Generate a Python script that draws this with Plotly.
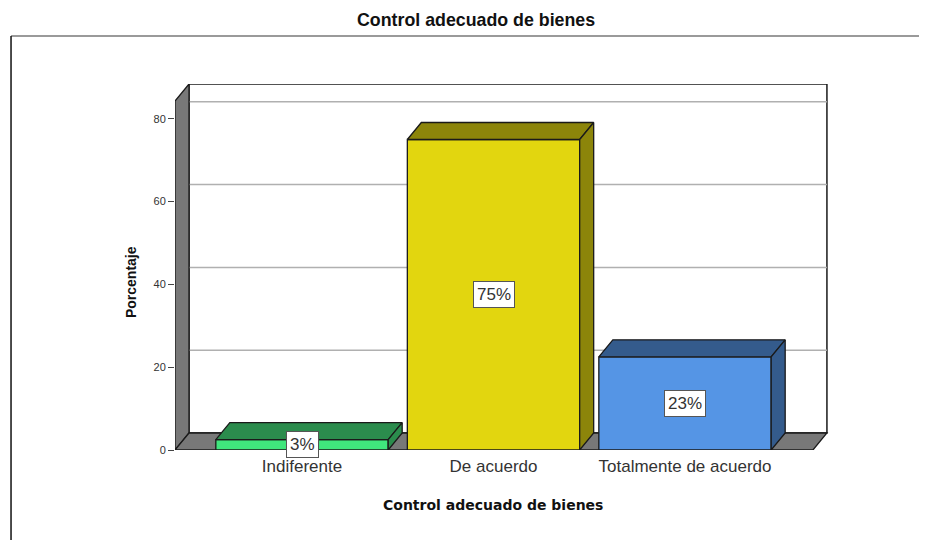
import plotly.graph_objects as go

# ---- data ----
categories = ["Indiferente", "De acuerdo", "Totalmente de acuerdo"]
values = [2.5, 75.0, 22.5]
labels = ["3%", "75%", "23%"]
y_ticks = [0, 20, 40, 60, 80]

front_colors = ["#40e67d", "#e2d60f", "#5595e5"]
dark_colors = ["#2b8c4d", "#8c850a", "#345b8c"]

# ---- geometry (data units) ----
W = 0.9            # bar width
DX = 14 / 191.5    # depth offset in x (category units)
DY = 17 / 4.14     # depth offset in y (value units)
XL = -0.6632       # left wall front x
XR = 2.668         # floor right front x
WALL_TOP = 84.3    # wall top (front) value
X_RANGE = [-0.6632, 2.8146]
Y_RANGE = [0, WALL_TOP + DY]

xs = list(range(len(categories)))

fig = go.Figure()

fig.add_trace(go.Bar(
    x=xs, y=values, width=W,
    marker=dict(color=front_colors, line=dict(color="#1a1a1a", width=1.3)),
    hoverinfo="skip", showlegend=False,
))

for i, v in enumerate(values):
    x0, x1 = i - W / 2, i + W / 2
    # top face
    fig.add_trace(go.Scatter(
        x=[x0, x0 + DX, x1 + DX, x1, x0],
        y=[v, v + DY, v + DY, v, v],
        fill="toself", fillcolor=dark_colors[i], mode="lines",
        line=dict(color="#1a1a1a", width=1.3), hoverinfo="skip", showlegend=False,
    ))
    # side face
    fig.add_trace(go.Scatter(
        x=[x1, x1, x1 + DX, x1 + DX, x1],
        y=[0, v, v + DY, DY, 0],
        fill="toself", fillcolor=dark_colors[i], mode="lines",
        line=dict(color="#1a1a1a", width=1.3), hoverinfo="skip", showlegend=False,
    ))

shapes = []
# back wall
shapes.append(dict(type="path", xref="x", yref="y", layer="below",
                   path=f"M{XL+DX},{DY} L{XL+DX},{WALL_TOP+DY} L{XR+DX},{WALL_TOP+DY} L{XR+DX},{DY} Z",
                   fillcolor="white", line=dict(color="#1a1a1a", width=1.5)))
# gridlines on back wall
for t in y_ticks[1:]:
    shapes.append(dict(type="line", xref="x", yref="y", layer="below",
                       x0=XL + DX, x1=XR + DX, y0=t + DY, y1=t + DY,
                       line=dict(color="#b0b0b0", width=1.5)))
# left wall
shapes.append(dict(type="path", xref="x", yref="y", layer="below",
                   path=f"M{XL},0 L{XL},{WALL_TOP} L{XL+DX},{WALL_TOP+DY} L{XL+DX},{DY} Z",
                   fillcolor="#787878", line=dict(color="#1a1a1a", width=1.3)))
# floor
shapes.append(dict(type="path", xref="x", yref="y", layer="below",
                   path=f"M{XL},0 L{XL+DX},{DY} L{XR+DX},{DY} L{XR},0 Z",
                   fillcolor="#787878", line=dict(color="#1a1a1a", width=1.3)))
# outer frame
shapes.append(dict(type="line", xref="paper", yref="paper", x0=-0.2462, x1=1.2, y0=1.131, y1=1.131,
                   line=dict(color="#9a9a9a", width=2)))
shapes.append(dict(type="line", xref="paper", yref="paper", x0=-0.2462, x1=-0.2462, y0=1.131, y1=-0.3,
                   line=dict(color="#111111", width=1.5)))

annotations = []
for i, (v, lab) in enumerate(zip(values, labels)):
    annotations.append(dict(x=i, y=v / 2, xref="x", yref="y", text=lab, showarrow=False,
                            xanchor="center", yanchor="middle",
                            bgcolor="white", bordercolor="#555555", borderwidth=1, borderpad=3,
                            font=dict(family="Liberation Sans, Arial", size=17, color="#333333")))
annotations.append(dict(x=0.452, y=1.175, xref="paper", yref="paper", text="<b>Control adecuado de bienes</b>",
                        xanchor="center", yanchor="middle", showarrow=False,
                        font=dict(family="Liberation Sans, Arial", size=17.8, color="#111111")))
annotations.append(dict(x=0.4775, y=-0.150, xref="paper", yref="paper", text="<b>Control adecuado de bienes</b>",
                        xanchor="center", yanchor="middle", showarrow=False,
                        font=dict(family="DejaVu Sans", size=14, color="#111111")))
annotations.append(dict(x=-0.066, y=0.459, xref="paper", yref="paper", text="<b>Porcentaje</b>",
                        xanchor="center", yanchor="middle", textangle=-90, showarrow=False,
                        font=dict(family="Liberation Sans, Arial", size=14, color="#111111")))

fig.update_layout(
    width=919, height=532,
    margin=dict(l=167, r=86, t=76, b=90),
    paper_bgcolor="white", plot_bgcolor="rgba(0,0,0,0)",
    shapes=shapes, annotations=annotations,
    showlegend=False,
    font=dict(family="Liberation Sans, Arial", color="#333333"),
    xaxis=dict(range=X_RANGE, tickvals=xs, ticktext=categories, showgrid=False, zeroline=False,
               showline=False, ticks="", ticklabelstandoff=4,
               tickfont=dict(size=17, color="#333333"), fixedrange=True),
    yaxis=dict(range=Y_RANGE, tickvals=y_ticks, showgrid=False, zeroline=False, showline=False,
               ticks="outside", ticklen=6, tickcolor="#444444", tickwidth=1,
               tickfont=dict(size=11, color="#333333"), fixedrange=True),
)

fig.write_html("out.html")
